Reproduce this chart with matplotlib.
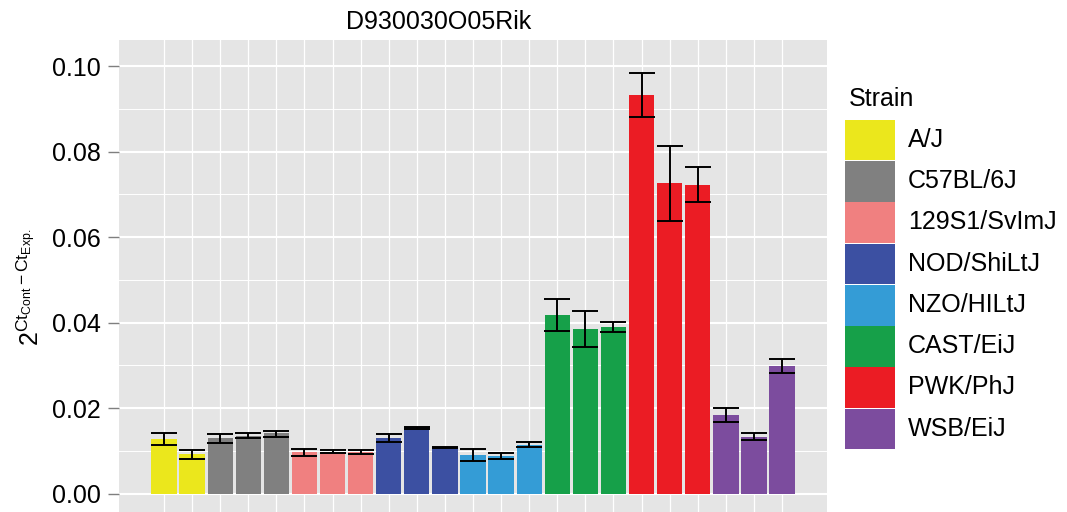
import matplotlib
matplotlib.use("Agg")
import matplotlib.pyplot as plt
from matplotlib.patches import Rectangle
from matplotlib.ticker import MultipleLocator, FormatStrFormatter

plt.rcParams["font.family"] = ["Liberation Sans", "DejaVu Sans"]
plt.rcParams["mathtext.fontset"] = "custom"
plt.rcParams["mathtext.rm"] = "Liberation Sans"
plt.rcParams["mathtext.it"] = "Liberation Sans"

strains = ["A/J", "C57BL/6J", "129S1/SvImJ", "NOD/ShiLtJ",
           "NZO/HILtJ", "CAST/EiJ", "PWK/PhJ", "WSB/EiJ"]
strain_colors = ["#EBE71C", "#808080", "#F08080", "#3C50A2",
                 "#349CD6", "#16A049", "#EB1C24", "#7C4C9E"]

# strain index of each bar, left to right
bar_strain = [0, 0, 1, 1, 1, 2, 2, 2, 3, 3, 3, 4, 4, 4,
              5, 5, 5, 6, 6, 6, 7, 7, 7]
values = [0.0128, 0.0093, 0.0130, 0.0136, 0.0141, 0.0097, 0.0098, 0.0098,
          0.0130, 0.0155, 0.0109, 0.0091, 0.0087, 0.0115,
          0.0418, 0.0385, 0.0391, 0.0933, 0.0726, 0.0723,
          0.0184, 0.0133, 0.0299]
err_hi = [0.0141, 0.0103, 0.0140, 0.0141, 0.0147, 0.0105, 0.0102, 0.0103,
          0.0140, 0.0157, 0.0110, 0.0105, 0.0096, 0.0122,
          0.0455, 0.0427, 0.0401, 0.0983, 0.0813, 0.0765,
          0.0200, 0.0143, 0.0314]
err_lo = [0.0114, 0.0081, 0.0118, 0.0130, 0.0133, 0.0087, 0.0095, 0.0092,
          0.0120, 0.0152, 0.0108, 0.0077, 0.0082, 0.0110,
          0.0380, 0.0342, 0.0378, 0.0881, 0.0638, 0.0682,
          0.0167, 0.0125, 0.0282]

y_ticks = [0.00, 0.02, 0.04, 0.06, 0.08, 0.10]

W, H = 1067, 512
fig = plt.figure(figsize=(W / 100, H / 100), dpi=100)
ax = fig.add_axes([119 / W, 1 - 516 / H, (827 - 119) / W, (516 - 40) / H])
ax.set_facecolor("#E5E5E5")
for s in ax.spines.values():
    s.set_visible(False)

x = list(range(1, len(values) + 1))
colors = [strain_colors[i] for i in bar_strain]
ax.bar(x, values, width=0.9, color=colors, zorder=2)
yerr = [[v - lo for v, lo in zip(values, err_lo)],
        [hi - v for v, hi in zip(values, err_hi)]]
ax.errorbar(x, values, yerr=yerr, fmt="none", ecolor="black",
            elinewidth=1.4, capsize=9.1, capthick=1.4, zorder=3)

ax.set_xlim(-0.6, 24.6)
ax.set_ylim(-0.00522, 0.10613)
ax.set_xticks(x)
ax.set_xticklabels([])
ax.set_yticks(y_ticks)
ax.yaxis.set_major_formatter(FormatStrFormatter("%.2f"))
ax.yaxis.set_minor_locator(MultipleLocator(0.01))
ax.set_axisbelow(True)
ax.grid(which="major", axis="y", color="white", linewidth=1.5)
ax.grid(which="minor", axis="y", color="white", linewidth=0.7)
ax.grid(which="major", axis="x", color="white", linewidth=0.9)
ax.tick_params(axis="y", which="major", length=8, width=1.0, color="#7F7F7F",
               labelsize=18, pad=5)
ax.tick_params(axis="y", which="minor", length=0)
ax.tick_params(axis="x", length=0)

fig.text(439 / W, 1 - 22 / H, "D930030O05Rik", ha="center", va="center",
         fontsize=18)
fig.text(31 / W, 1 - 287 / H,
         r"$2^{\mathrm{Ct}_{\mathrm{Cont}}-\mathrm{Ct}_{\mathrm{Exp.}}}$",
         rotation=90, ha="center", va="center", fontsize=18)

# legend drawn as keys next to the panel
fig.text(849 / W, 1 - 99 / H, "Strain", ha="left", va="center", fontsize=18)
key_top, key_h = 119, 41.3
for i, (name, col) in enumerate(zip(strains, strain_colors)):
    y0 = key_top + i * key_h
    fig.patches.append(Rectangle((845 / W, 1 - (y0 + key_h) / H), 50 / W,
                                 (key_h - 0.6) / H, transform=fig.transFigure,
                                 facecolor=col, edgecolor="none"))
    fig.text(908 / W, 1 - (y0 + key_h / 2) / H, name, ha="left",
             va="center", fontsize=18)

fig.savefig("out.png", dpi=100)
